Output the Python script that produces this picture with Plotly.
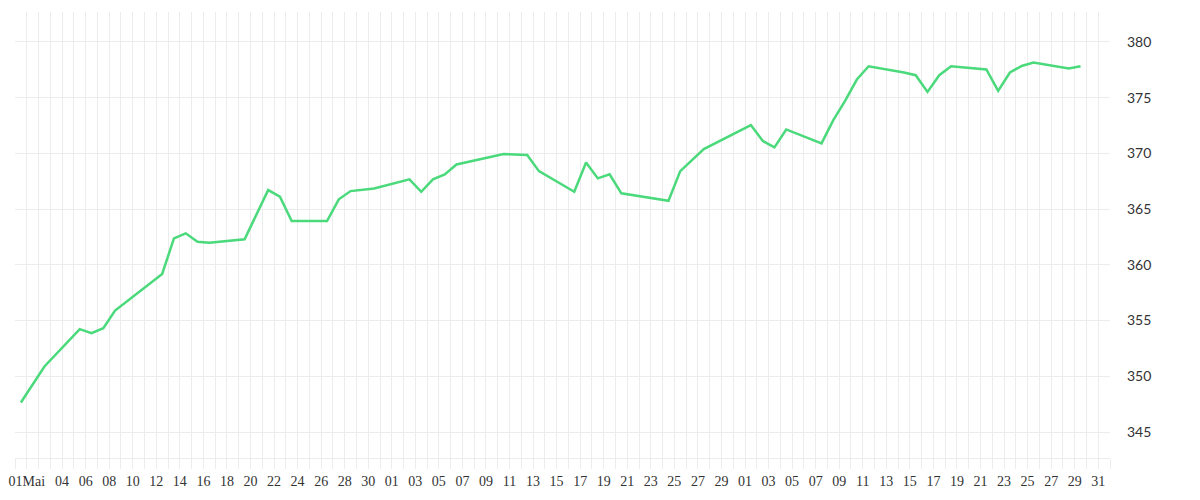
import plotly.graph_objects as go
import pandas as pd

dates = [
    "2025-04-30", "2025-05-02", "2025-05-05", "2025-05-06", "2025-05-07", "2025-05-08",
    "2025-05-12", "2025-05-13", "2025-05-14", "2025-05-15", "2025-05-16", "2025-05-19",
    "2025-05-21", "2025-05-22", "2025-05-23", "2025-05-26", "2025-05-27", "2025-05-28",
    "2025-05-30", "2025-06-02", "2025-06-03", "2025-06-04", "2025-06-05", "2025-06-06",
    "2025-06-10", "2025-06-12", "2025-06-13", "2025-06-16", "2025-06-17", "2025-06-18",
    "2025-06-19", "2025-06-20", "2025-06-24", "2025-06-25", "2025-06-27", "2025-07-01",
    "2025-07-02", "2025-07-03", "2025-07-04", "2025-07-07", "2025-07-08", "2025-07-09",
    "2025-07-10", "2025-07-11", "2025-07-14", "2025-07-15", "2025-07-16", "2025-07-17",
    "2025-07-18", "2025-07-21", "2025-07-22", "2025-07-23", "2025-07-24", "2025-07-25",
    "2025-07-28", "2025-07-29",
]
prices = [
    347.65, 350.88, 354.23, 353.87, 354.32, 355.90,
    359.18, 362.38, 362.83, 362.08, 361.99, 362.29,
    366.71, 366.11, 363.93, 363.93, 365.88, 366.62,
    366.86, 367.67, 366.56, 367.67, 368.12, 369.01,
    369.94, 369.85, 368.41, 366.56, 369.19, 367.76,
    368.12, 366.42, 365.75, 368.41, 370.39, 372.54,
    371.13, 370.54, 372.15, 370.90, 372.98, 374.71,
    376.63, 377.82, 377.26, 377.02, 375.52, 377.02,
    377.82, 377.53, 375.61, 377.26, 377.85, 378.15,
    377.62, 377.82,
]
y_ticks = [345, 350, 355, 360, 365, 370, 375, 380]

GRID = "#ececec"
TEXT = "#333333"

# Kurse liegen mittags zwischen den Tages-Gitterlinien
x = pd.to_datetime(dates) + pd.Timedelta(hours=12)

# eine Gitterlinie pro Tag, Beschriftung jeden zweiten Tag
days = pd.date_range("2025-04-30", "2025-08-01", freq="D")
start = pd.Timestamp("2025-05-01")
tick_text = []
for d in days:
    off = (d - start).days
    if off == 0:
        tick_text.append("01Mai")
    elif off >= 3 and off % 2 == 1 and d <= pd.Timestamp("2025-07-31"):
        tick_text.append(d.strftime("%d"))
    else:
        tick_text.append("")

fig = go.Figure(go.Scatter(
    x=x,
    y=prices,
    mode="lines",
    line=dict(color="#4ad97b", width=2.5),
    hoverinfo="x+y",
))

# body hat 8px Rand -> Raender entsprechend kleiner
fig.update_layout(
    width=1200,
    height=500,
    margin=dict(l=7, r=98, t=4, b=50),
    paper_bgcolor="white",
    plot_bgcolor="white",
    showlegend=False,
    xaxis=dict(
        range=["2025-04-30", "2025-08-01"],
        tickvals=days,
        ticktext=tick_text,
        tickangle=0,
        showgrid=True,
        gridcolor=GRID,
        gridwidth=1,
        ticks="outside",
        ticklen=10,
        tickcolor=GRID,
        showline=True,
        linecolor=GRID,
        linewidth=1,
        zeroline=False,
        tickfont=dict(family="Liberation Serif", size=14, color=TEXT),
        automargin=False,
    ),
    yaxis=dict(
        side="right",
        range=[342.67, 382.69],
        tickvals=y_ticks,
        showgrid=True,
        gridcolor=GRID,
        gridwidth=1,
        zeroline=False,
        showline=False,
        ticks="",
        ticklabelstandoff=16,
        tickfont=dict(family="Lato", size=14, color=TEXT),
        automargin=False,
    ),
)

fig.write_html("out.html")
